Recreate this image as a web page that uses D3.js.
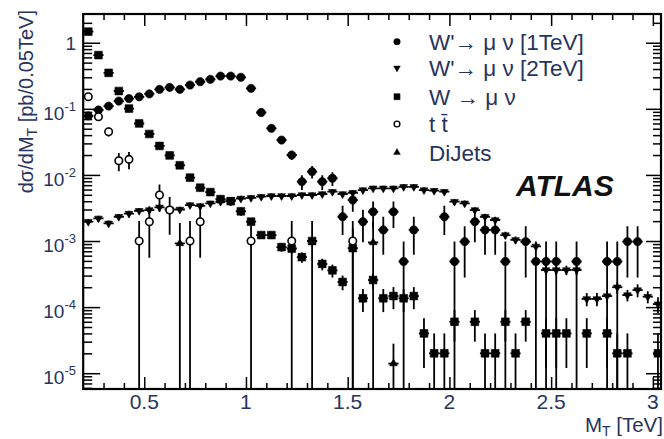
<!DOCTYPE html>
<html><head><meta charset="utf-8">
<script src="https://cdn.jsdelivr.net/npm/d3@7"></script>
<style>html,body{margin:0;padding:0;background:#fff;} svg{display:block;}</style>
</head><body>
<svg id="c" width="664" height="439"></svg>
<script>
// ---------------- data ----------------
const binCenters = [0.225,0.275,0.325,0.375,0.425,0.475,0.525,0.575,0.625,0.675,
  0.725,0.775,0.825,0.875,0.925,0.975,1.025,1.075,1.125,1.175,
  1.225,1.275,1.325,1.375,1.425,1.475,1.525,1.575,1.625,1.675,
  1.725,1.775,1.825,1.875,1.925,1.975,2.025,2.075,2.125,2.175,
  2.225,2.275,2.325,2.375,2.425,2.475,2.525,2.575,2.625,2.675,
  2.725,2.775,2.825,2.875,2.925,2.975,3.025];

// W' -> mu nu [1 TeV]
const wp1Values = [0.078,0.096,0.110,0.131,0.143,0.152,0.168,0.197,0.211,0.197,
  0.229,0.257,0.279,0.313,0.313,0.300,0.204,0.088,0.0507,0.0337,
  0.020,0.0079,0.0112,0.0079,0.0089,0.00233,0.00417,0.00196,0.00277,0.00147,
  0.00277,0.00049,0.00147,null,null,0.00233,0.00049,0.00098,0.00196,0.00147,
  0.00147,0.00049,null,0.00098,0.00049,0.00049,0.00049,null,0.00049,null,
  null,0.00049,0.00049,0.00098,0.00098,null,null];
const wp1Errors = [0.006,0.007,0.007,0.008,0.008,0.009,0.009,0.01,0.01,0.01,
  0.011,0.011,0.012,0.012,0.012,0.012,0.01,0.0066,0.005,0.0041,
  0.0032,0.002,0.0024,0.002,0.0021,0.0011,0.0014,0.001,0.0012,0.00085,
  0.0012,0.00049,0.00085,null,null,0.0011,0.00049,0.0007,0.001,0.00085,
  0.00085,0.00049,null,0.0007,0.00049,0.00049,0.00049,null,0.00049,null,
  null,0.00049,0.00049,0.0007,0.0007,null,null];

// W' -> mu nu [2 TeV]
const wp2Values = [0.00196,0.0022,0.00185,0.00233,0.0026,0.00287,0.00294,0.00323,0.00302,0.0030,
  0.0035,0.00339,0.00372,0.00394,0.00417,0.0044,0.0045,0.00468,0.0048,0.0048,
  0.0048,0.00497,0.00497,0.00514,0.00557,0.00514,0.00537,0.0059,0.00627,0.00627,
  0.00627,0.0066,0.0066,0.0059,0.00577,0.00557,0.00394,0.00372,0.00294,0.00233,
  0.00208,0.00123,0.00104,0.00098,0.00083,0.000364,0.000364,0.000364,0.000364,0.000133,
  0.000133,0.000147,0.0002,0.000152,0.000181,0.000144,0.000111];
const wp2Errors = [0.0002,0.00022,0.00019,0.00023,0.00026,0.00028,0.00029,0.00032,0.0003,0.0003,
  0.00034,0.00033,0.00036,0.00038,0.0004,0.00042,0.00043,0.00045,0.00046,0.00046,
  0.00046,0.00047,0.00047,0.00049,0.00052,0.00049,0.0005,0.00055,0.00058,0.00058,
  0.00058,0.0006,0.0006,0.00055,0.00054,0.00052,0.0004,0.00038,0.00031,0.00025,
  0.00023,0.00015,0.00013,0.00012,0.00011,0.00006,0.00006,0.00006,0.00006,0.00003,
  0.00003,0.00003,0.00004,0.00003,0.00004,0.00003,0.00003];

// W -> mu nu
const wmunuValues = [1.47,0.65,0.35,0.186,0.101,0.060,0.0416,0.0274,0.0197,0.014,
  0.0091,0.0064,0.0055,0.0043,0.0040,0.00282,0.00196,0.00123,0.00123,0.00081,
  0.00077,0.00057,0.001,0.00045,0.00036,0.00024,0.00078,0.000136,0.000257,0.000136,
  0.000147,0.000136,0.000147,0.00004,0.00002,0.00002,0.00006,null,0.00006,0.00002,
  0.00002,0.00006,0.00002,0.00006,null,0.00004,0.00004,0.00004,null,0.00004,
  null,0.00004,0.00002,0.00002,null,null,0.00002];
const wmunuErrors = [0.04,0.02,0.012,0.008,0.005,0.0035,0.0028,0.0022,0.0018,0.0014,
  0.001,0.0008,0.0007,0.0006,0.0006,0.0004,0.00025,0.00015,0.00015,0.00012,
  0.00012,0.0001,0.001,0.00009,0.00008,0.00006,0.00078,0.000052,0.00007,0.000052,
  0.000054,0.000052,0.000054,0.000028,0.00002,0.00002,0.00003,null,0.00003,0.00002,
  0.00002,0.00003,0.00002,0.00003,null,0.000028,0.000028,0.000028,null,0.000028,
  null,0.000028,0.00002,0.00002,null,null,0.00002];

// t tbar
const ttbarValues = [0.152,0.076,0.045,0.0164,0.0172,0.001,0.00196,0.00497,0.00294,null,
  0.001,0.00196,null,null,null,null,0.001,null,null,null,
  0.001,null,null,null,null,null,0.001];
const ttbarErrors = [0.012,0.009,0.007,0.005,0.005,0.001,0.0014,0.0022,0.0017,null,
  0.001,0.0014,null,null,null,null,0.001,null,null,null,
  0.001,null,null,null,null,null,0.001];

// DiJets
const dijetBins   = [0.675, 1.625, 1.725];
const dijetValues = [0.00092, 0.00095, 0.000014];
const dijetErrors = [0.00095, 0.00098, 0.000014];

const xMajorTicks = [0.5,1,1.5,2,2.5,3];
const xTickLabels = ["0.5","1","1.5","2","2.5","3"];
const yDecadeExponents = [0,-1,-2,-3,-4,-5];
const legendLabels = ["W'\u2192 \u03bc \u03bd [1TeV]","W'\u2192 \u03bc \u03bd [2TeV]","W \u2192 \u03bc \u03bd","t t\u0304","DiJets"];

// ---------------- layout ----------------
const M = {left:83.2, right:661, top:14, bottom:389};
const x = d3.scaleLinear().domain([0.2,3.04]).range([M.left,M.right]);
const y = d3.scaleLog().domain([5.77e-6,2.72]).range([M.bottom,M.top]);
const halfBin = 0.025;
const ink = '#000';
const textInk = '#27345e';
const FONT = "'Liberation Sans', Arial, Helvetica, sans-serif";

const svg = d3.select('#c');
svg.append('rect').attr('width',664).attr('height',439).attr('fill','#fff');

svg.append('defs').append('clipPath').attr('id','plotclip')
  .append('rect').attr('x',M.left).attr('y',M.top)
  .attr('width',M.right-M.left).attr('height',M.bottom-M.top);

// ---------------- axes ticks ----------------
const xMinor = d3.range(3,31).map(d=>d/10).filter(v=>!xMajorTicks.some(m=>Math.abs(m-v)<1e-9));
function styleAxis(g){ g.select('.domain').remove(); g.selectAll('line').attr('stroke',ink).attr('stroke-width',1.5); g.selectAll('text').remove(); }

svg.append('g').attr('transform',`translate(0,${M.bottom})`)
  .call(d3.axisBottom(x).tickValues(xMajorTicks).tickSize(-12).tickFormat('')).call(styleAxis);
svg.append('g').attr('transform',`translate(0,${M.bottom})`)
  .call(d3.axisBottom(x).tickValues(xMinor).tickSize(-6).tickFormat('')).call(styleAxis);
svg.append('g').attr('transform',`translate(0,${M.top})`)
  .call(d3.axisTop(x).tickValues(xMajorTicks).tickSize(-12).tickFormat('')).call(styleAxis);
svg.append('g').attr('transform',`translate(0,${M.top})`)
  .call(d3.axisTop(x).tickValues(xMinor).tickSize(-6).tickFormat('')).call(styleAxis);

const yMajor = yDecadeExponents.map(e=>Math.pow(10,e));
const yMinor = [];
for (let e=-6; e<=0; e++) for (let m=2; m<=9; m++) {
  const v = m*Math.pow(10,e);
  if (v>y.domain()[0] && v<y.domain()[1]) yMinor.push(v);
}
svg.append('g').attr('transform',`translate(${M.left},0)`)
  .call(d3.axisLeft(y).tickValues(yMajor).tickSize(-17).tickFormat('')).call(styleAxis);
svg.append('g').attr('transform',`translate(${M.left},0)`)
  .call(d3.axisLeft(y).tickValues(yMinor).tickSize(-9).tickFormat('')).call(styleAxis);
svg.append('g').attr('transform',`translate(${M.right},0)`)
  .call(d3.axisRight(y).tickValues(yMajor).tickSize(-15).tickFormat('')).call(styleAxis);
svg.append('g').attr('transform',`translate(${M.right},0)`)
  .call(d3.axisRight(y).tickValues(yMinor).tickSize(-8).tickFormat('')).call(styleAxis);

// frame
svg.append('rect').attr('x',M.left).attr('y',M.top)
  .attr('width',M.right-M.left).attr('height',M.bottom-M.top)
  .attr('fill','none').attr('stroke',ink).attr('stroke-width',2.2);

// ---------------- tick labels ----------------
svg.append('g').selectAll('text').data(xMajorTicks).join('text')
  .attr('x',d=>x(d)).attr('y',409)
  .attr('text-anchor','middle').attr('font-family',FONT).attr('font-size',21)
  .attr('fill',textInk).text((d,i)=>xTickLabels[i]);

const yl = svg.append('g');
yDecadeExponents.forEach(e=>{
  const yy = y(Math.pow(10,e));
  if (e===0) {
    yl.append('text').attr('x',76).attr('y',yy+7).attr('text-anchor','end')
      .attr('font-family',FONT).attr('font-size',19).attr('fill',textInk).text('1');
  } else {
    const t = yl.append('text').attr('x',76).attr('y',yy+11).attr('text-anchor','end')
      .attr('font-family',FONT).attr('font-size',19).attr('fill',textInk);
    t.append('tspan').text('10');
    t.append('tspan').attr('dy',-9).attr('font-size',13).text(String(e));
  }
});

// axis titles
const yt = svg.append('text').attr('transform','translate(33,10) rotate(-90)')
  .attr('text-anchor','end').attr('font-family',FONT).attr('font-size',20).attr('fill',textInk);
yt.append('tspan').text('d\u03c3/dM');
yt.append('tspan').attr('font-size',14).attr('dy',4).text('T');
yt.append('tspan').attr('dy',-4).text(' [pb/0.05TeV]');

const xt = svg.append('text').attr('x',663).attr('y',432).attr('text-anchor','end')
  .attr('font-family',FONT).attr('font-size',20.5).attr('fill',textInk);
xt.append('tspan').text('M');
xt.append('tspan').attr('font-size',14).attr('dy',4).text('T');
xt.append('tspan').attr('dy',-4).text(' [TeV]');

// ---------------- data ----------------
const plot = svg.append('g').attr('clip-path','url(#plotclip)');

function drawSeries(centers, vals, errs, opt){
  const pts = centers.map((c,i)=>({c, v:vals[i], e:errs[i]})).filter(d=>d.v!=null);
  const g = plot.append('g');
  g.selectAll('line.ey').data(pts).join('line')
    .attr('x1',d=>x(d.c)).attr('x2',d=>x(d.c))
    .attr('y1',d=>y(d.v+d.e))
    .attr('y2',d=> d.v-d.e > y.domain()[0] ? y(d.v-d.e) : M.bottom+3)
    .attr('stroke',ink).attr('stroke-width',1.8);
  if (opt.xerr) {
    g.selectAll('line.ex').data(pts).join('line')
      .attr('x1',d=>x(d.c-halfBin)).attr('x2',d=>x(d.c+halfBin))
      .attr('y1',d=>y(d.v)).attr('y2',d=>y(d.v))
      .attr('stroke',ink).attr('stroke-width',1.8);
  }
  g.selectAll('path.m').data(pts).join('path')
    .attr('d', d3.symbol().type(opt.type).size(opt.size))
    .attr('transform',d=>`translate(${x(d.c)},${y(d.v)})${opt.rot?' rotate(180)':''}`)
    .attr('fill',opt.open?'#fff':ink)
    .attr('stroke',ink).attr('stroke-width',opt.open?1.6:0.6);
}

drawSeries(binCenters, wp2Values, wp2Errors, {type:d3.symbolTriangle,size:26,rot:true,xerr:true});
drawSeries(binCenters, wmunuValues, wmunuErrors, {type:d3.symbolSquare,size:60,xerr:true});
drawSeries(binCenters, wp1Values, wp1Errors, {type:d3.symbolCircle,size:54,xerr:true});
drawSeries(binCenters.slice(0,ttbarValues.length), ttbarValues, ttbarErrors, {type:d3.symbolCircle,size:44,open:true,xerr:false});
drawSeries(dijetBins, dijetValues, dijetErrors, {type:d3.symbolTriangle,size:26,xerr:true});

// ---------------- legend ----------------
const legendRows = [41.7,68,96.7,124,152.5];
const legendSymbols = [
  {type:d3.symbolCircle,size:34},
  {type:d3.symbolTriangle,size:20,rot:true},
  {type:d3.symbolSquare,size:38},
  {type:d3.symbolCircle,size:26,open:true},
  {type:d3.symbolTriangle,size:20}
];
const lg = svg.append('g');
legendLabels.forEach((lab,i)=>{
  const s = legendSymbols[i];
  lg.append('path').attr('d',d3.symbol().type(s.type).size(s.size)())
    .attr('transform',`translate(397,${legendRows[i]})${s.rot?' rotate(180)':''}`)
    .attr('fill',s.open?'#fff':ink).attr('stroke',ink).attr('stroke-width',s.open?1.4:0.4);
  lg.append('text').attr('x',429).attr('y',legendRows[i]+8)
    .attr('font-family',FONT).attr('font-size',22.5).attr('fill',textInk).text(lab);
});

// ATLAS label
svg.append('text').attr('x',516).attr('y',196).attr('font-family',FONT)
  .attr('font-size',30).attr('font-weight','bold').attr('font-style','italic')
  .attr('fill','#111').text('ATLAS');
</script>
</body></html>
